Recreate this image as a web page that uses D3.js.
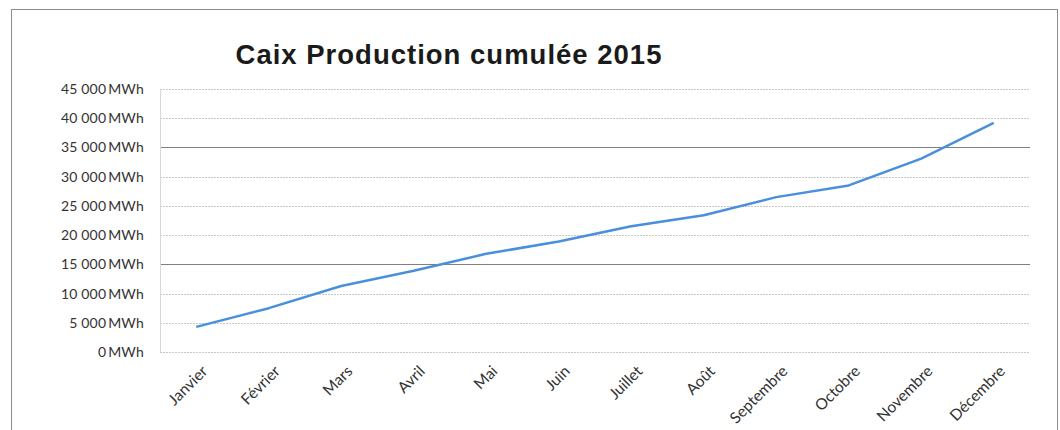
<!DOCTYPE html>
<html>
<head>
<meta charset="utf-8">
<script src="https://cdn.jsdelivr.net/npm/d3@7"></script>
<style>
	body { margin: 0; background: #fff; }
	svg { display: block; }
</style>
</head>
<body>
<svg id="chart" width="1060" height="430"></svg>
<script>
const months = ['Janvier', 'Février', 'Mars', 'Avril', 'Mai', 'Juin', 'Juillet', 'Août', 'Septembre', 'Octobre', 'Novembre', 'Décembre'];
const production = [4300, 7500, 11300, 13900, 16800, 18900, 21500, 23400, 26500, 28500, 33100, 39200];
const yTicks = [0, 5000, 10000, 15000, 20000, 25000, 30000, 35000, 40000, 45000];
const darkTicks = [15000, 35000];

const svg = d3.select('#chart');
const plot = {left: 160, right: 1030, top: 89, bottom: 352};

// frame
svg.append('rect')
	.attr('x', 11.5).attr('y', 9.5)
	.attr('width', 1046).attr('height', 440)
	.attr('fill', 'none')
	.attr('stroke', '#8c8c8c');

svg.append('text')
	.attr('x', 449).attr('y', 64)
	.attr('text-anchor', 'middle')
	.attr('font-family', 'Liberation Sans, Arial, sans-serif')
	.attr('font-weight', 'bold')
	.attr('font-size', 27.5)
	.attr('letter-spacing', 1)
	.attr('fill', '#1a1a1a')
	.text('Caix Production cumulée 2015');

let x = d3.scaleBand()
	.domain(months)
	.range([plot.left, plot.right]);

let y = d3.scaleLinear()
	.domain([0, 45000])
	.range([plot.bottom, plot.top]);

// grid
svg.append('g')
	.selectAll('line')
	.data(yTicks)
	.enter()
	.append('line')
	.attr('x1', plot.left).attr('x2', plot.right)
	.attr('y1', d => Math.round(y(d)) + 0.5)
	.attr('y2', d => Math.round(y(d)) + 0.5)
	.attr('stroke', d => darkTicks.includes(d) ? '#808080' : '#c8c8c8')
	.attr('stroke-dasharray', d => darkTicks.includes(d) ? null : '2,1');

svg.append('line')
	.attr('x1', plot.left + 0.5).attr('x2', plot.left + 0.5)
	.attr('y1', plot.top).attr('y2', plot.bottom)
	.attr('stroke', '#d8d8d8');

// y labels
const fmt = d => d3.format(',')(d).replace(/,/g, '\u202f') + '\u2009MWh';
let yAxis = svg.append('g')
	.attr('transform', `translate(${plot.left}, 0)`)
	.call(d3.axisLeft(y).tickValues(yTicks).tickFormat(fmt).tickSize(0).tickPadding(16));
yAxis.select('.domain').remove();
yAxis.selectAll('text')
	.attr('font-family', 'Lato, sans-serif')
	.attr('font-size', 14)
	.attr('letter-spacing', 0.2)
	.attr('fill', '#333');

// x labels
svg.append('g')
	.selectAll('text')
	.data(months)
	.enter()
	.append('text')
	.attr('transform', d => `translate(${x(d) + x.bandwidth() / 2 + 4}, 364) rotate(-45)`)
	.attr('text-anchor', 'end')
	.attr('dy', '0.75em')
	.attr('font-family', 'Lato, sans-serif')
	.attr('font-size', 15.5)
	.attr('fill', '#333')
	.text(d => d);

// line
const line = d3.line()
	.x((d, i) => x(months[i]) + x.bandwidth() / 2)
	.y(d => y(d));

svg.append('path')
	.datum(production)
	.attr('d', line)
	.attr('fill', 'none')
	.attr('stroke', '#4a8fdb')
	.attr('stroke-width', 2.5)
	.attr('stroke-linejoin', 'round');
</script>
</body>
</html>
